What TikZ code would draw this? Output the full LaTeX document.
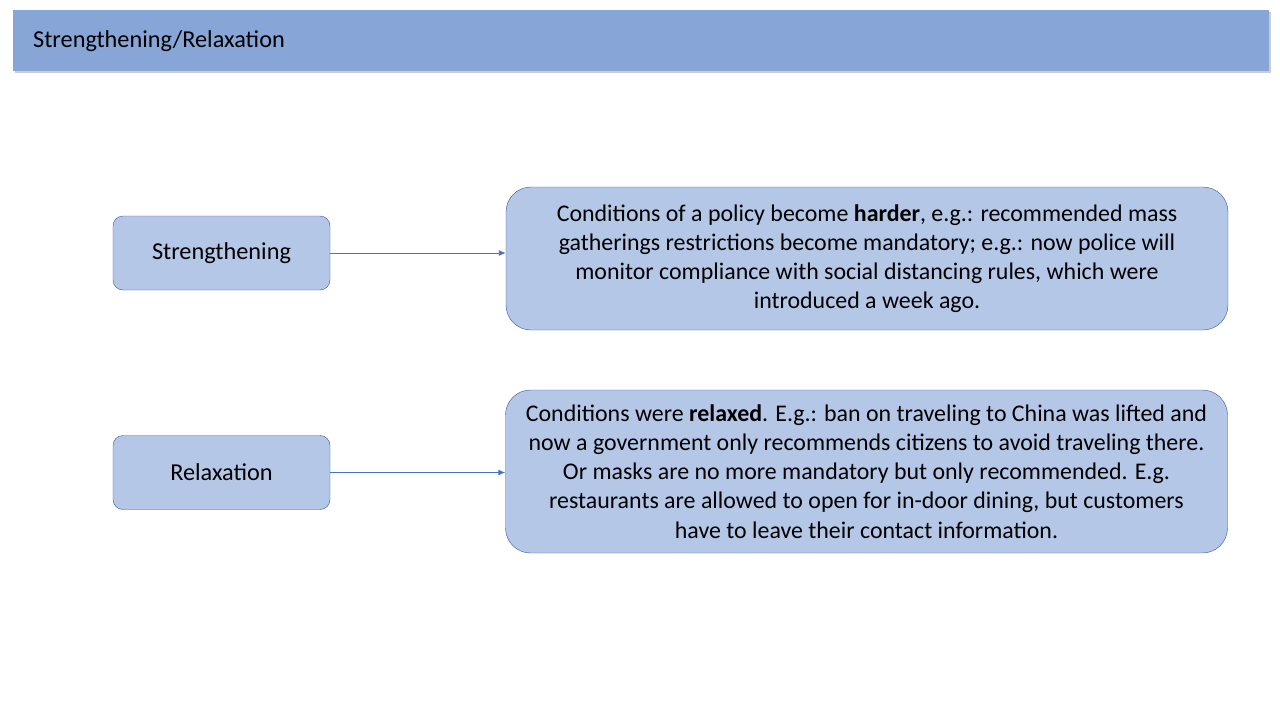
\documentclass[tikz,border=0pt]{standalone}
\usepackage{fontspec}
\setmainfont{Carlito}
\usetikzlibrary{arrows.meta,shadows}
\definecolor{headblue}{RGB}{135,165,214}
\definecolor{boxblue}{RGB}{180,199,231}
\definecolor{edgeblue}{RGB}{52,88,165}
\definecolor{arrowblue}{RGB}{68,114,196}
\tikzset{
  smallbox/.style={draw=edgeblue,fill=boxblue,rounded corners=10pt,
    minimum width=217pt,minimum height=74pt,inner sep=0pt,
    font=\fontsize{24.3}{29}\selectfont},
  bigbox/.style={draw=edgeblue,fill=boxblue,rounded corners=25pt,
    minimum width=722pt,inner sep=0pt,align=center,
    font=\fontsize{23.9}{29.2}\selectfont},
  link/.style={draw=arrowblue,line width=0.9pt,-{Latex[length=7pt,width=6pt]}}
}
\begin{document}
\begin{tikzpicture}[x=1pt,y=-1pt]
    \useasboundingbox (0,0) rectangle (1280,720);
    % title bar
    \node[fill=headblue,minimum width=1256pt,minimum height=61pt,inner sep=0pt,
      drop shadow={shadow xshift=2pt,shadow yshift=-2pt,opacity=0.4}]
      (head) at (641,40.5) {};
    \node[anchor=west,inner sep=0pt,font=\fontsize{24.3}{29}\selectfont] (title) at (33,41.5) {Strengthening/Relaxation};
    % left boxes
    \node[smallbox] (strong) at (221.5,253) {Strengthening};
    \node[smallbox] (relax) at (221.5,472.5) {Relaxation};
    % right boxes
    \node[bigbox,minimum height=143pt] (hard) at (867,258.5)
      {Conditions of a policy become \textbf{harder}, e.g.: recommended mass\\
       gatherings restrictions become mandatory; e.g.: now police will\\
       monitor compliance with social distancing rules, which were\\
       introduced a week ago.};
    \node[bigbox,minimum height=163pt] (soft) at (866.5,471.5)
      {Conditions were \textbf{relaxed}. E.g.: ban on traveling to China was lifted and\\
       now a government only recommends citizens to avoid traveling there.\\
       Or masks are no more mandatory but only recommended. E.g.\\
       restaurants are allowed to open for in-door dining, but customers\\
       have to leave their contact information.};
    % arrows
    \draw[link] (strong.east) -- (strong.east -| hard.west);
    \draw[link] (relax.east) -- (relax.east -| soft.west);
\end{tikzpicture}
\end{document}
